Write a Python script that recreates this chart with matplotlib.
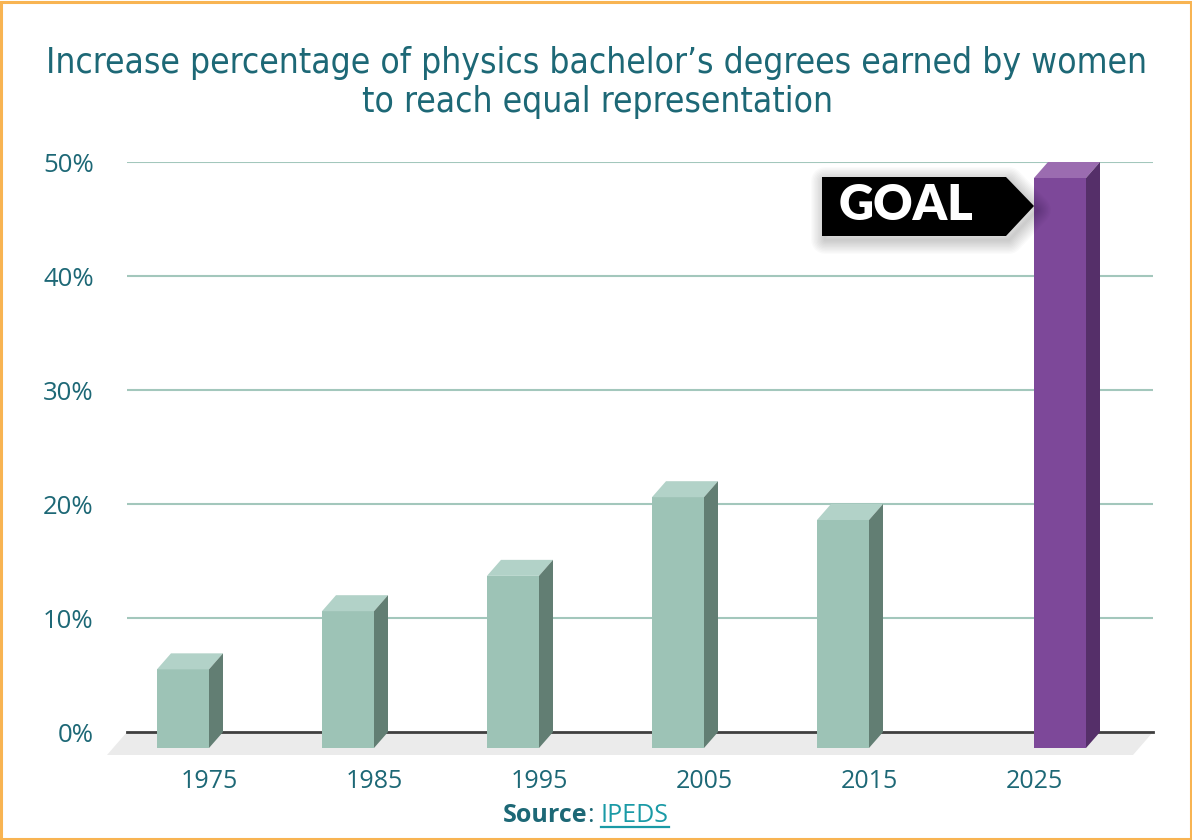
import matplotlib
matplotlib.use("Agg")
import matplotlib.pyplot as plt
from matplotlib.patches import Polygon, Rectangle
from matplotlib.lines import Line2D
from matplotlib.transforms import IdentityTransform

# ---------------- data ----------------
years = ["1975", "1985", "1995", "2005", "2015", "2025"]
women_pct = [6.9, 12.0, 15.1, 22.0, 20.0]     # actual share (first five years)
goal_pct = 50.0                                # goal for 2025
y_ticks = [0, 10, 20, 30, 40, 50]
y_tick_labels = ["0%", "10%", "20%", "30%", "40%", "50%"]
title_lines = ["Increase percentage of physics bachelor\u2019s degrees earned by women",
               "to reach equal representation"]

# ---------------- style ----------------
TEAL = "#1d6876"
LINK = "#1a9aa6"
GRID = "#a3c7bc"
FRONT, TOP, SIDE = "#9dc3b6", "#b2d2c8", "#627e73"
PFRONT, PTOP, PSIDE = "#7d4899", "#9b6cb0", "#552f69"

W, H = 1192, 840
fig = plt.figure(figsize=(W / 100, H / 100), dpi=100)
fig.patch.set_facecolor("white")

# axes = back plane of the 3D chart
px_left, px_right = 127, 1153
px_zero, px_fifty = 732, 162
cat_px = 165.0
first_center_px = 223.0
xl = -(first_center_px - px_left) / cat_px
xr = (px_right - first_center_px) / cat_px
ax = fig.add_axes([px_left / W, (H - px_zero) / H, (px_right - px_left) / W, (px_zero - px_fifty) / H])
ax.set_xlim(xl, xr)
ax.set_ylim(0, 50)
for s in ax.spines.values():
    s.set_visible(False)
ax.set_facecolor("none")

ypx = (px_zero - px_fifty) / 50.0
# depth offsets in data units
ox, oy = -14 / cat_px, -16 / ypx
fx, fy = -20 / cat_px, -23 / ypx
bw = 52 / cat_px

# floor
floor = Polygon([(xl, 0), (xr, 0), (xr + fx, fy), (xl + fx, fy)], closed=True,
                facecolor="#ebebeb", edgecolor="none", clip_on=False, zorder=0)
ax.add_patch(floor)

# gridlines
for t in y_ticks:
    if t == 0:
        ax.axhline(t, color="#3f3f3f", lw=2.0, zorder=1, clip_on=False)
    else:
        ax.axhline(t, color=GRID, lw=1.5, zorder=1)

ax.set_yticks(y_ticks)
ax.set_yticklabels(y_tick_labels)
ax.tick_params(axis="y", length=0, pad=24, labelsize=18.5, labelcolor=TEAL)
for lab in ax.get_yticklabels():
    lab.set_fontfamily("Open Sans")

idx = list(range(len(years)))
ax.set_xticks([i + ox for i in idx])
ax.set_xticklabels(years)
ax.tick_params(axis="x", length=0, pad=27, labelsize=18, labelcolor=TEAL)
for lab in ax.get_xticklabels():
    lab.set_fontfamily("Open Sans")


def bar3d(x0, v, cf, ct, cs):
    ax.bar([x0 + ox], [v], width=bw, bottom=oy, align="edge", color=cf,
           edgecolor="none", zorder=3, clip_on=False)
    top = Polygon([(x0 + ox, v + oy), (x0 + bw + ox, v + oy), (x0 + bw, v), (x0, v)],
                  closed=True, facecolor=ct, edgecolor="none", zorder=3, clip_on=False)
    side = Polygon([(x0 + bw + ox, oy), (x0 + bw + ox, v + oy), (x0 + bw, v), (x0 + bw, 0)],
                   closed=True, facecolor=cs, edgecolor="none", zorder=3, clip_on=False)
    ax.add_patch(top)
    ax.add_patch(side)


for i, v in enumerate(women_pct):
    bar3d(i - bw, v, FRONT, TOP, SIDE)
gi = len(years) - 1
bar3d(gi, goal_pct, PFRONT, PTOP, PSIDE)

# GOAL call-out (display coordinates anchored on the goal bar)
tx, ty = ax.transData.transform((gi + ox, goal_pct + oy))
ty -= 28
shape = [(-212, 29), (-28, 29), (0, 0), (-28, -30), (-212, -30)]
pts = [(tx + a, ty + b) for a, b in shape]
for k in range(10, 0, -1):
    sh = Polygon([(x + 3, y - 4) for x, y in pts], closed=True, facecolor="none",
                 edgecolor="black", lw=k * 2.0, alpha=0.018, joinstyle="round",
                 transform=IdentityTransform(), zorder=4)
    fig.add_artist(sh)
fig.add_artist(Polygon(pts, closed=True, facecolor="black", edgecolor="none",
                       transform=IdentityTransform(), zorder=5))
fig.text((tx - 128) / W, (ty + 1) / H, "GOAL", color="white", fontsize=35,
         fontweight="heavy", family=["Lato", "DejaVu Sans"], ha="center", va="center", zorder=6)

# title: fit first line to the reference width
fig.canvas.draw()
r = fig.canvas.get_renderer()
tt1 = fig.text(597 / W, (H - 73) / H, title_lines[0], ha="center", va="baseline", color=TEAL,
               fontsize=28, family="DejaVu Sans", fontstretch="condensed")
wt = tt1.get_window_extent(r).width
fs = 28 * 1101.0 / wt
tt1.set_fontsize(fs)
fig.text(597 / W, (H - 112) / H, title_lines[1], ha="center", va="baseline", color=TEAL,
         fontsize=fs, family="DejaVu Sans", fontstretch="condensed")

# source line with underlined link
base_y = (H - 822) / H
t1 = fig.text(0, base_y, "Source", color=TEAL, fontsize=18, fontweight="bold",
              family="Open Sans", va="baseline")
t2 = fig.text(0, base_y, ": ", color=TEAL, fontsize=18, family="Open Sans", va="baseline")
t3 = fig.text(0, base_y, "IPEDS", color=LINK, fontsize=18, family="Open Sans", va="baseline")
w1 = t1.get_window_extent(r).width
w2 = t2.get_window_extent(r).width
w3 = t3.get_window_extent(r).width
start = 586 - (w1 + w2 + w3) / 2
t1.set_x(start / W)
t2.set_x((start + w1) / W)
t3.set_x((start + w1 + w2) / W)
fig.add_artist(Line2D([(start + w1 + w2) / W, (start + w1 + w2 + w3) / W],
                      [(H - 827) / H, (H - 827) / H], color=LINK, lw=1.6))

# orange border
fig.add_artist(Rectangle((0.001, 0.001), 0.998, 0.997, transform=fig.transFigure,
                         facecolor="none", edgecolor="#f8b452", lw=2.2))

fig.savefig("out.png", dpi=100, facecolor="white")
